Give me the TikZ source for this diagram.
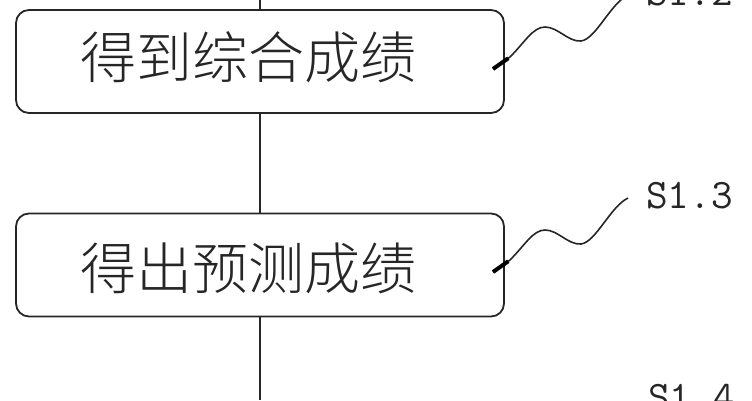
\documentclass[tikz,border=0pt]{standalone}
\usepackage{fontspec}
\newfontfamily\cjk{Noto Sans CJK SC Light}
\usetikzlibrary{calc}
\begin{document}
\begin{tikzpicture}[x=1pt,y=1pt,
  stepbox/.style={draw=black!85,line width=1.8pt,rounded corners=13pt,
    minimum width=488pt,minimum height=103pt,inner sep=0pt},
  steptext/.style={inner sep=0pt,font=\cjk\fontsize{56}{60}\selectfont,text=black!85},
  steplabel/.style={inner sep=0pt,anchor=west,font=\ttfamily\fontsize{42}{46}\selectfont,text=black!85},
  flow/.style={draw=black!85,line width=1.5pt},
  leader/.style={draw=black!85,line width=1.6pt},
  leadertick/.style={draw=black,line width=4pt}]
\useasboundingbox (0,0) rectangle (752,400);
\node[stepbox] (b1) at (260,338.5) {};
\node[stepbox] (b2) at (260,135) {};
\node[steptext] (t1) at (248,343) {得到综合成绩};
\node[steptext] (t2) at (248,132) {得出预测成绩};
\node[steplabel] (s2) at (646,407) {S1.2};
\node[steplabel] (s3) at (646,204) {S1.3};
\node[steplabel] (s4) at (648,2) {S1.4};
\coordinate (top) at (260,400);
\coordinate (bot) at (260,0);
\draw[flow] (top) -- (b1.north);
\draw[flow] (b1.south) -- (b2.north);
\draw[flow] (b2.south) -- (bot);
% leaders
\coordinate (a1) at (493,331);
\coordinate (a1b) at (510,343);
\coordinate (e1) at ($(s2.west)+(-18,-2)$);
\draw[leader] (a1) -- (a1b) .. controls (525,358) and (533,373) .. (545,373)
  .. controls (558,373) and (568,358) .. (581,359)
  .. controls (596,361) and (610,396) .. (e1);
\draw[leadertick] (a1) -- ($(a1)!0.9!(a1b)$);
\coordinate (a2) at (493,128);
\coordinate (a2b) at (510,140);
\coordinate (e2) at ($(s3.west)+(-18,-2)$);
\draw[leader] (a2) -- (a2b) .. controls (525,155) and (533,170) .. (545,170)
  .. controls (558,170) and (568,155) .. (581,156)
  .. controls (596,158) and (610,193) .. (e2);
\draw[leadertick] (a2) -- ($(a2)!0.9!(a2b)$);
\end{tikzpicture}
\end{document}
